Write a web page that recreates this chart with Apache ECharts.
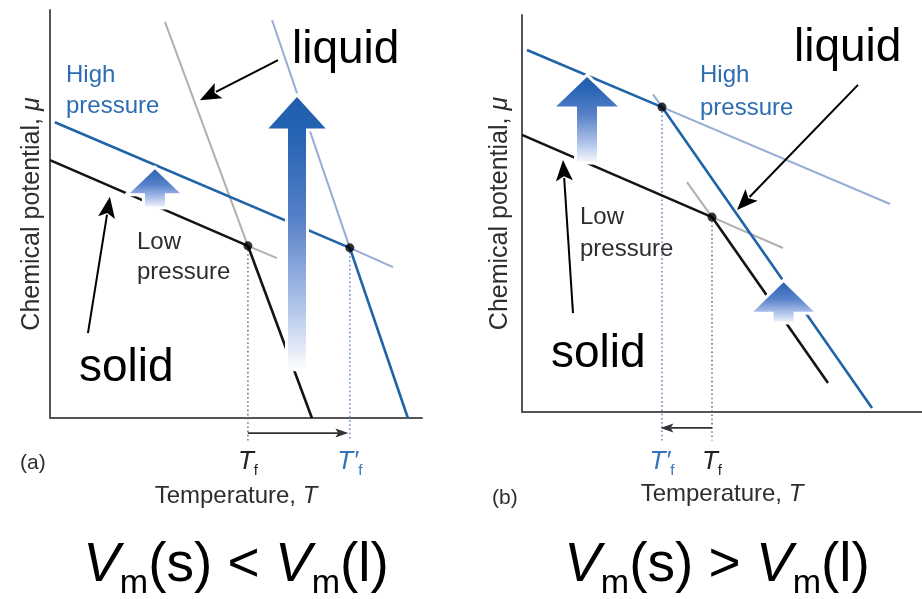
<!DOCTYPE html>
<html><head><meta charset="utf-8">
<script src="https://cdn.jsdelivr.net/npm/echarts@6/dist/echarts.min.js"></script>
<style>html,body{margin:0;padding:0;background:#fff}#c{width:922px;height:599px}</style>
</head><body><div id="c"></div>
<script>
// ---------- Panel (a): Vm(s) < Vm(l)  (data units 0..100 on both axes) ----------
const aSolidLow      = [[0, 63.2], [53.2, 42.2]];
const aSolidLowExt   = [[53.2, 42.2], [61.0, 39.2]];
const aLiquidLowExt  = [[30.9, 97.1], [53.2, 42.2]];
const aLiquidLow     = [[53.2, 42.2], [70.4, 0]];
const aSolidHigh     = [[1.3, 72.5], [80.6, 41.7]];
const aSolidHighExt  = [[80.6, 41.7], [92.2, 37.0]];
const aLiquidHighExt = [[59.7, 97.5], [80.6, 41.7]];
const aLiquidHigh    = [[80.6, 41.7], [96.2, 0]];
const aMelt          = [[53.2, 42.2], [80.6, 41.7]];          // T_f (low p), T_f' (high p)
const aDropTo        = -5.6;
const aShiftY        = -3.7;
const aBlockArrows   = [[66.4, 79.2, 70.6, 11.8], [28.2, 61.5, 54.7, 51.5]]; // x, tip, head base, tail
const aPointers      = [[61.3, 87.7, 40.3, 77.9], [10.2, 20.8, 16.1, 54.2]]; // from -> to

// ---------- Panel (b): Vm(s) > Vm(l) ----------
const bSolidLow      = [[0, 69.8], [47.5, 49.1]];
const bSolidLowExt   = [[47.5, 49.1], [65.25, 41.3]];
const bLiquidLowExt  = [[41.25, 57.9], [47.5, 49.1]];
const bLiquidLow     = [[47.5, 49.1], [76.5, 7.3]];
const bSolidHigh     = [[1.25, 91.2], [35.0, 76.8]];
const bSolidHighExt  = [[35.0, 76.8], [92.0, 52.4]];
const bLiquidHighExt = [[32.75, 80.0], [35.0, 76.8]];
const bLiquidHigh    = [[35.0, 76.8], [87.5, 1.0]];
const bMelt          = [[47.5, 49.1], [35.0, 76.8]];          // T_f (low p), T_f' (high p)
const bDropTo        = -7.2;
const bShiftY        = -4.0;
const bBlockArrows   = [[16.25, 84.9, 76.6, 62.7], [65.4, 33.2, 24.9, 22.4]];
const bPointers      = [[84.0, 82.4, 53.75, 50.9], [12.75, 24.9, 10.25, 63.5]];

// ---------- styles ----------
const FONT = "'Liberation Sans', Arial, Helvetica, sans-serif";
const C_BLACK = '#141414', C_BLUE = '#1f63a8', C_LBLUE = '#97acd5', C_GRAY = '#b0b0b0';
const C_TEXT = '#2e2e2e', C_BTEXT = '#2d6db0';

const bigStops = [
  {offset: 0, color: '#1f5dad'}, {offset: 0.14, color: '#2462b2'},
  {offset: 0.45, color: '#5680c8'}, {offset: 0.78, color: '#b4c7ea'}, {offset: 1, color: '#ffffff'}];
const smallStops = [
  {offset: 0, color: '#1f5bab'}, {offset: 0.45, color: '#5a83cc'},
  {offset: 0.72, color: '#a9bde9'}, {offset: 1, color: '#ffffff'}];
const aArrowSizes = [{head: 32, shaft: 10.5, stops: bigStops}, {head: 29, shaft: 11.5, stops: smallStops}];
const bArrowSizes = [{head: 34.5, shaft: 11.5, stops: bigStops}, {head: 34, shaft: 11.5, stops: smallStops}];

function seg(data, gi, color, width, z, type) {
  return {
    type: 'line', xAxisIndex: gi, yAxisIndex: gi, data: data, showSymbol: false, silent: true,
    clip: false, z: z, animation: false,
    lineStyle: {color: color, width: width, type: type || 'solid', cap: 'butt'}
  };
}
function drops(melt, dropTo, gi) {
  return [
    seg([[melt[0][0], melt[0][1]], [melt[0][0], dropTo]], gi, '#7a7a7a', 1.6, 1, [1.6, 2.6]),
    seg([[melt[1][0], melt[1][1]], [melt[1][0], dropTo]], gi, '#6d8fca', 1.6, 1, [1.6, 2.6])
  ];
}
function blockArrow(sizes) {
  return function (params, api) {
    const s = sizes[params.dataIndex];
    const tip = api.coord([api.value(0), api.value(1)]);
    const base = api.coord([api.value(0), api.value(2)]);
    const tail = api.coord([api.value(0), api.value(3)]);
    const cx = tip[0];
    return {
      type: 'polygon',
      shape: {points: [[cx, tip[1]], [cx + s.head, base[1]], [cx + s.shaft, base[1]], [cx + s.shaft, tail[1]],
                       [cx - s.shaft, tail[1]], [cx - s.shaft, base[1]], [cx - s.head, base[1]]]},
      style: {fill: {type: 'linear', x: 0, y: 0, x2: 0, y2: 1, colorStops: s.stops}, stroke: '#ffffff', lineWidth: 3}
    };
  };
}
function pointer(headLen, headHalf, width, color) {
  return function (params, api) {
    const p1 = api.coord([api.value(0), api.value(1)]);
    const p2 = api.coord([api.value(2), api.value(3)]);
    const dx = p2[0] - p1[0], dy = p2[1] - p1[1], L = Math.hypot(dx, dy);
    const ux = dx / L, uy = dy / L, nx = -uy, ny = ux;
    const bx = p2[0] - ux * headLen, by = p2[1] - uy * headLen;
    return {
      type: 'group', children: [
        {type: 'line', shape: {x1: p1[0], y1: p1[1], x2: bx + ux * 3, y2: by + uy * 3},
         style: {stroke: color, lineWidth: width}},
        {type: 'polygon', shape: {points: [[p2[0], p2[1]], [bx + nx * headHalf, by + ny * headHalf],
            [bx + ux * headLen * 0.22, by + uy * headLen * 0.22], [bx - nx * headHalf, by - ny * headHalf]]},
         style: {fill: color}}
      ]
    };
  };
}
function customSeries(data, gi, render, z) {
  return {type: 'custom', xAxisIndex: gi, yAxisIndex: gi, data: data, renderItem: render,
          clip: false, silent: true, z: z, animation: false};
}
function panelSeries(gi, L, melt, dropTo, shiftY, blocks, sizes, pointers) {
  return [
    seg(L.solidLowExt, gi, C_GRAY, 2, 2), seg(L.liquidLowExt, gi, C_GRAY, 2, 2),
    seg(L.solidHighExt, gi, C_LBLUE, 2, 2), seg(L.liquidHighExt, gi, C_LBLUE, 2, 2),
    seg(L.solidLow, gi, C_BLACK, 2.6, 3), seg(L.liquidLow, gi, C_BLACK, 2.6, 3),
    seg(L.solidHigh, gi, C_BLUE, 2.6, 3), seg(L.liquidHigh, gi, C_BLUE, 2.6, 3),
    ...drops(melt, dropTo, gi),
    customSeries([[melt[0][0], shiftY, melt[1][0] - 0.4, shiftY]], gi, pointer(13, 4.5, 1.6, '#333'), 3),
    customSeries(blocks, gi, blockArrow(sizes), 5),
    customSeries(pointers, gi, pointer(21, 8.5, 2, '#000'), 6),
    {type: 'scatter', xAxisIndex: gi, yAxisIndex: gi, data: melt, symbolSize: 9, silent: true,
     itemStyle: {color: '#000'}, z: 7, animation: false}
  ];
}

const labelRich = {
  t:  {fontFamily: FONT, fontStyle: 'italic', fontSize: 26, color: '#222', lineHeight: 32},
  s:  {fontFamily: FONT, fontSize: 15, color: '#222', lineHeight: 16, verticalAlign: 'bottom'},
  tb: {fontFamily: FONT, fontStyle: 'italic', fontSize: 26, color: '#3474bd', lineHeight: 32},
  sb: {fontFamily: FONT, fontSize: 15, color: '#3474bd', lineHeight: 16, verticalAlign: 'bottom'}
};
function xAxisFor(gi, melt, labelMargin, nameGap) {
  return {
    type: 'value', gridIndex: gi, min: 0, max: 100,
    axisLine: {show: true, onZero: false, lineStyle: {color: '#555', width: 2}},
    axisTick: {show: false}, splitLine: {show: false},
    axisLabel: {
      show: true, customValues: [melt[0][0], melt[1][0]], margin: labelMargin, rich: labelRich,
      formatter: function (v) { return Math.abs(v - melt[1][0]) < 1e-6 ? '{tb|T\u2032}{sb|f}' : '{t|T}{s|f}'; }
    },
    name: 'Temperature, {i|T}', nameLocation: 'middle', nameGap: nameGap, nameMoveOverlap: false,
    nameTextStyle: {fontFamily: FONT, fontSize: 24, color: C_TEXT,
      rich: {i: {fontFamily: FONT, fontSize: 24, fontStyle: 'italic', color: C_TEXT}}}
  };
}
function yAxisFor(gi, gap) {
  return {
    type: 'value', gridIndex: gi, min: 0, max: 100,
    axisLine: {show: true, onZero: false, lineStyle: {color: '#555', width: 2}},
    axisTick: {show: false}, splitLine: {show: false}, axisLabel: {show: false},
    name: 'Chemical potential, {i|\u03bc}', nameLocation: 'middle', nameGap: gap, nameRotate: 90,
    nameMoveOverlap: false,
    nameTextStyle: {fontFamily: FONT, fontSize: 25, color: C_TEXT,
      rich: {i: {fontFamily: FONT, fontSize: 25, fontStyle: 'italic', color: C_TEXT}}}
  };
}
function txt(x, y, text, size, color, extra) {
  return Object.assign({type: 'text', x: x, y: y, silent: true,
    style: {text: text, fontFamily: FONT, fontSize: size, fill: color, verticalAlign: 'middle', align: 'left'}}, extra || {});
}
const formulaRich = {
  v: {fontFamily: FONT, fontSize: 55, fontStyle: 'italic', lineHeight: 70, fill: '#000', color: '#000'},
  s: {fontFamily: FONT, fontSize: 34, lineHeight: 34, verticalAlign: 'bottom', fill: '#000', color: '#000'},
  n: {fontFamily: FONT, fontSize: 55, lineHeight: 70, fill: '#000', color: '#000'}
};
function formula(x, y, text) {
  return {type: 'text', x: x, y: y, silent: true,
    style: {text: text, rich: formulaRich, align: 'center', verticalAlign: 'middle', fill: '#000'}};
}

const LA = {solidLow: aSolidLow, solidLowExt: aSolidLowExt, liquidLow: aLiquidLow, liquidLowExt: aLiquidLowExt,
  solidHigh: aSolidHigh, solidHighExt: aSolidHighExt, liquidHigh: aLiquidHigh, liquidHighExt: aLiquidHighExt};
const LB = {solidLow: bSolidLow, solidLowExt: bSolidLowExt, liquidLow: bLiquidLow, liquidLowExt: bLiquidLowExt,
  solidHigh: bSolidHigh, solidHighExt: bSolidHighExt, liquidHigh: bLiquidHigh, liquidHighExt: bLiquidHighExt};

const chart = echarts.init(document.getElementById('c'), null, {renderer: 'canvas'});
chart.setOption({
  backgroundColor: '#ffffff',
  animation: false,
  grid: [
    {left: 50, top: 10, width: 372, height: 408, containLabel: false, outerBoundsMode: 'none'},
    {left: 522, top: 15, width: 400, height: 397, containLabel: false, outerBoundsMode: 'none'}
  ],
  xAxis: [xAxisFor(0, aMelt, 28, 66), xAxisFor(1, bMelt, 34, 70)],
  yAxis: [yAxisFor(0, 5), yAxisFor(1, 9)],
  series: [
    ...panelSeries(0, LA, aMelt, aDropTo, aShiftY, aBlockArrows, aArrowSizes, aPointers),
    ...panelSeries(1, LB, bMelt, bDropTo, bShiftY, bBlockArrows, bArrowSizes, bPointers)
  ],
  graphic: [
    txt(66, 75, 'High', 24, C_BTEXT), txt(66, 106, 'pressure', 24, C_BTEXT),
    txt(137, 242, 'Low', 24, C_TEXT), txt(137, 272, 'pressure', 24, C_TEXT),
    txt(292, 50, 'liquid', 46, '#000'), txt(79, 368, 'solid', 46, '#000'),
    txt(20, 463, '(a)', 21, C_TEXT),
    txt(700, 75, 'High', 24, C_BTEXT), txt(700, 108, 'pressure', 24, C_BTEXT),
    txt(580, 217, 'Low', 24, C_TEXT), txt(580, 249, 'pressure', 24, C_TEXT),
    txt(794, 48, 'liquid', 46, '#000'), txt(551, 354, 'solid', 46, '#000'),
    txt(492, 498, '(b)', 21, C_TEXT),
    formula(236, 566, '{v|V}{s|m}{n|(s) < }{v|V}{s|m}{n|(l)}'),
    formula(717, 566, '{v|V}{s|m}{n|(s) > }{v|V}{s|m}{n|(l)}')
  ]
});
</script>
</body></html>
